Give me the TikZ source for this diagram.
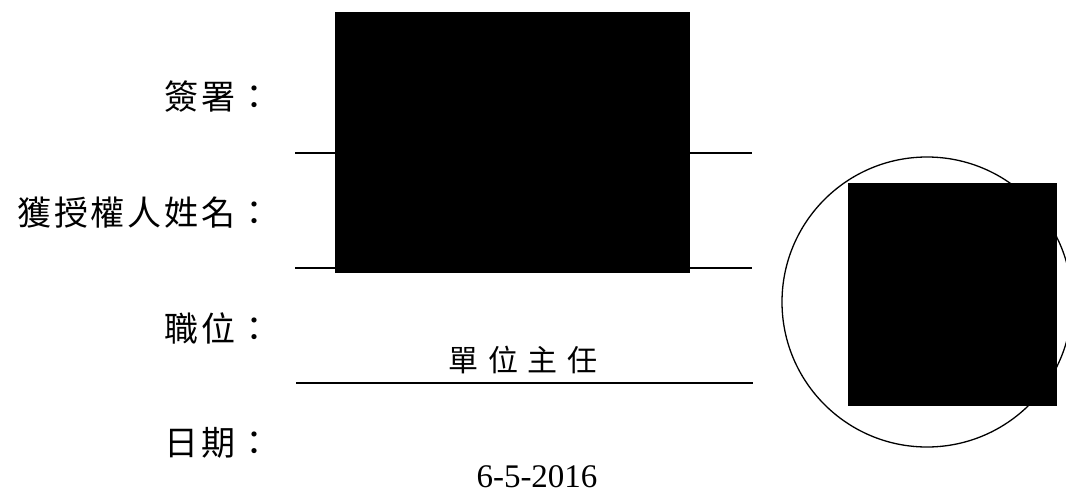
\documentclass[tikz,border=0pt]{standalone}
\usepackage{fontspec}
\setmainfont{Liberation Serif}
\newfontfamily\cjk{Noto Sans CJK TC}
\newfontfamily\cjklabel[LetterSpace=8]{Noto Sans CJK TC}
\newfontfamily\cjkvalue[LetterSpace=33]{Noto Sans CJK TC}
\begin{document}
\begin{tikzpicture}[x=1pt,y=-1pt,
  lbl/.style={anchor=east,inner sep=0pt,font=\cjklabel\fontsize{34}{36}\selectfont},
  val/.style={anchor=center,inner sep=0pt,font=\cjkvalue\fontsize{30}{32}\selectfont},
  datetxt/.style={anchor=base,inner sep=0pt,font=\fontsize{33}{36}\selectfont},
  rule/.style={line width=1.4pt},
  redact/.style={fill=black,draw=none}]
\useasboundingbox (0,0) rectangle (1066,493);
% rules
\coordinate (l1a) at (295,153); \coordinate (l1b) at (752,153);
\coordinate (l2a) at (295,268); \coordinate (l2b) at (752,268);
\coordinate (l3a) at (296,383); \coordinate (l3b) at (753,383);
\draw[rule] (l1a) -- (l1b);
\draw[rule] (l2a) -- (l2b);
\draw[rule] (l3a) -- (l3b);
% stamp circle
\coordinate (stampc) at (927,302);
\draw[line width=1.3pt] (stampc) circle[radius=145];
% redactions
\fill[redact] (335,12) rectangle (690,273);
\fill[redact] (848,183) rectangle (1057,406);
% labels
\node[lbl] (sig) at (272,97) {簽署：};
\node[lbl] (name) at (272,213) {獲授權人姓名：};
\node[lbl] (pos) at (272,328) {職位：};
\node[lbl] (date) at (272,443) {日期：};
% values
\node[val] (posval) at (523,360) {單位主任};
\node[datetxt] (dateval) at (537,487) {6-5-2016};
\end{tikzpicture}
\end{document}
